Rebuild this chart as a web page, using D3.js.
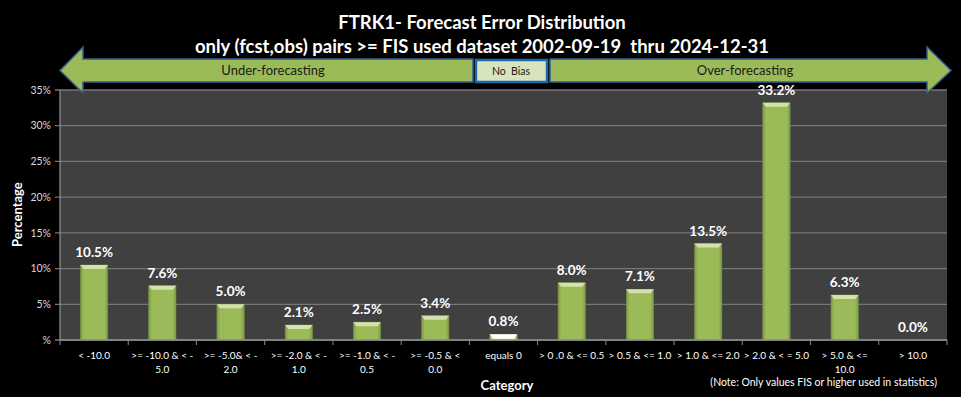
<!DOCTYPE html>
<html>
<head>
<meta charset="utf-8">
<script src="https://cdn.jsdelivr.net/npm/d3@7"></script>
<style>
    body { margin: 0; background: #000; overflow: hidden; }
    svg { display: block; font-family: Lato, "Open Sans", sans-serif; }
    .pre { white-space: pre; }
</style>
</head>
<body>
<div id="chart"></div>
<script>
// Chart data
const categories = [
    "< -10.0",
    ">= -10.0 & < -\n5.0",
    ">= -5.0& < -\n2.0",
    ">= -2.0 & < -\n1.0",
    ">= -1.0 & < -\n0.5",
    ">= -0.5 & <\n0.0",
    "equals 0",
    "> 0 .0 & <= 0.5",
    "> 0.5 & <= 1.0",
    "> 1.0 & <= 2.0",
    "> 2.0 & < = 5.0",
    "> 5.0 & <=\n10.0",
    "> 10.0"
];
const percentages = [10.5, 7.6, 5.0, 2.1, 2.5, 3.4, 0.8, 8.0, 7.1, 13.5, 33.2, 6.3, 0.0];
const yTicks = [0, 5, 10, 15, 20, 25, 30, 35];
const yTickLabels = ["%", "5%", "10%", "15%", "20%", "25%", "30%", "35%"];

const titleLines = [
    "FTRK1- Forecast Error Distribution",
    "only (fcst,obs) pairs >= FIS used dataset 2002-09-19  thru 2024-12-31"
];

const width = 961, height = 397;
const margin = { top: 90, right: 14, bottom: 57, left: 60 };
const plotLeft = margin.left, plotRight = width - margin.right;
const plotTop = margin.top, plotBottom = height - margin.bottom;

const svg = d3.select("#chart")
    .append("svg")
    .attr("width", width)
    .attr("height", height);

// gradients for the bars
const defs = svg.append("defs");
const greenGrad = defs.append("linearGradient").attr("id", "greenBar");
greenGrad.append("stop").attr("offset", "0%").attr("stop-color", "#7e9a45");
greenGrad.append("stop").attr("offset", "12%").attr("stop-color", "#9bbb59");
greenGrad.append("stop").attr("offset", "88%").attr("stop-color", "#9bbb59");
greenGrad.append("stop").attr("offset", "100%").attr("stop-color", "#7e9a45");
const whiteGrad = defs.append("linearGradient").attr("id", "whiteBar");
whiteGrad.append("stop").attr("offset", "0%").attr("stop-color", "#8fae55");
whiteGrad.append("stop").attr("offset", "12%").attr("stop-color", "#eef3e2");
whiteGrad.append("stop").attr("offset", "88%").attr("stop-color", "#eef3e2");
whiteGrad.append("stop").attr("offset", "100%").attr("stop-color", "#8fae55");

// Scales (in svg coordinates)
const xScale = d3.scaleBand()
    .domain(categories)
    .range([plotLeft, plotRight])
    .paddingInner(0.6)
    .paddingOuter(0.3);

const yScale = d3.scaleLinear()
    .domain([0, 35])
    .range([plotBottom, plotTop]);

// Plot background
svg.append("rect")
    .attr("x", plotLeft)
    .attr("y", plotTop)
    .attr("width", plotRight - plotLeft)
    .attr("height", plotBottom - plotTop)
    .attr("fill", "#404040");

/* Gridlines + y axis */
svg.selectAll(".grid")
    .data(yTicks)
    .join("line")
    .attr("class", "grid")
    .attr("x1", plotLeft - 5)
    .attr("x2", plotRight)
    .attr("y1", d => yScale(d))
    .attr("y2", d => yScale(d))
    .attr("stroke", "#767676")
    .attr("stroke-width", 1.3);

svg.selectAll(".y-label")
    .data(yTicks)
    .join("text")
    .attr("class", "y-label")
    .attr("x", plotLeft - 9)
    .attr("y", d => yScale(d))
    .attr("dy", "0.35em")
    .attr("text-anchor", "end")
    .attr("fill", "#d9d9d9")
    .attr("font-size", 10.5)
    .text((d, i) => yTickLabels[i]);

svg.append("line")
    .attr("x1", plotLeft).attr("x2", plotLeft)
    .attr("y1", plotTop).attr("y2", plotBottom)
    .attr("stroke", "#8c8c8c")
    .attr("stroke-width", 1.3);

/* Bars */
const data = categories.map((c, i) => ({ category: c, value: percentages[i] }));

const bars = svg.selectAll(".bar")
    .data(data)
    .join("g")
    .attr("class", "bar");

bars.append("rect")
    .attr("x", d => xScale(d.category))
    .attr("y", d => yScale(d.value))
    .attr("width", xScale.bandwidth())
    .attr("height", d => plotBottom - yScale(d.value))
    .attr("fill", d => d.category === "equals 0" ? "url(#whiteBar)" : "url(#greenBar)")
    .attr("stroke", d => d.value > 0 ? "#7a9445" : "none")
    .attr("stroke-width", 0.6);

// bevelled top cap
bars.filter(d => d.value > 0)
    .append("path")
    .attr("d", d => {
        const x0 = xScale(d.category), x1 = x0 + xScale.bandwidth();
        const y0 = yScale(d.value);
        const h = Math.min(4, plotBottom - y0);
        return `M${x0},${y0}L${x1},${y0}L${x1 - 3},${y0 + h}L${x0 + 3},${y0 + h}Z`;
    })
    .attr("fill", d => d.category === "equals 0" ? "#ffffff" : "#d3e2ad");

// Value labels
svg.selectAll(".value-label")
    .data(data)
    .join("text")
    .attr("class", "value-label")
    .attr("x", d => xScale(d.category) + xScale.bandwidth() / 2)
    .attr("y", d => yScale(d.value) - 8)
    .attr("text-anchor", "middle")
    .attr("fill", "#ffffff")
    .attr("font-size", 13.5)
    .attr("font-weight", "bold")
    .text(d => d.value.toFixed(1) + "%");

/* X axis */
svg.append("line")
    .attr("x1", plotLeft).attr("x2", plotRight)
    .attr("y1", plotBottom).attr("y2", plotBottom)
    .attr("stroke", "#8c8c8c")
    .attr("stroke-width", 1.3);

// category boundary ticks
svg.selectAll(".cat-tick")
    .data(d3.range(categories.length + 1))
    .join("line")
    .attr("class", "cat-tick")
    .attr("x1", i => plotLeft + i * xScale.step())
    .attr("x2", i => plotLeft + i * xScale.step())
    .attr("y1", plotBottom)
    .attr("y2", plotBottom + 5)
    .attr("stroke", "#8c8c8c");

const catLabels = svg.selectAll(".cat-label")
    .data(categories)
    .join("text")
    .attr("class", "cat-label")
    .attr("text-anchor", "middle")
    .attr("fill", "#ffffff")
    .attr("font-size", 10)
    .attr("x", d => xScale(d) + xScale.bandwidth() / 2)
    .attr("y", plotBottom + 19);

catLabels.selectAll("tspan")
    .data(d => d.split("\n").map(line => ({ line, x: xScale(d) + xScale.bandwidth() / 2 })))
    .join("tspan")
    .attr("x", t => t.x)
    .attr("dy", (t, i) => i === 0 ? 0 : 13.5)
    .text(t => t.line);

// Axis titles
svg.append("text")
    .attr("x", 507)
    .attr("y", 390)
    .attr("text-anchor", "middle")
    .attr("fill", "#ffffff")
    .attr("font-size", 13)
    .attr("font-weight", "bold")
    .text("Category");

svg.append("text")
    .attr("x", 22)
    .attr("y", 247)
    .attr("transform", "rotate(-90,22,247)")
    .attr("text-anchor", "start")
    .attr("fill", "#ffffff")
    .attr("font-size", 13)
    .attr("font-weight", "bold")
    .text("Percentage");

svg.append("text")
    .attr("x", 937)
    .attr("y", 386)
    .attr("text-anchor", "end")
    .attr("fill", "#ffffff")
    .attr("font-size", 10.5)
    .text("(Note: Only values FIS or higher used in statistics)");

// Title
svg.selectAll(".chart-title")
    .data(titleLines)
    .join("text")
    .attr("class", "chart-title pre")
    .attr("x", 482)
    .attr("y", (d, i) => 29 + i * 24)
    .attr("text-anchor", "middle")
    .attr("fill", "#ffffff")
    .attr("font-size", 18.5)
    .attr("font-weight", "bold")
    .text(d => d);

/* Bias arrows */
const shaftTop = 59, shaftBot = 82, headTop = 47, headBot = 93, midY = 70.5;

svg.append("path")
    .attr("d", `M60,${midY}L83,${headTop}L83,${shaftTop}L473,${shaftTop}L473,${shaftBot}L83,${shaftBot}L83,${headBot}Z`)
    .attr("fill", "#9bbb59")
    .attr("stroke", "#385d8a")
    .attr("stroke-width", 1.5);

svg.append("path")
    .attr("d", `M550,${shaftTop}L927,${shaftTop}L927,${headTop}L951,${midY}L927,${headBot}L927,${shaftBot}L550,${shaftBot}Z`)
    .attr("fill", "#9bbb59")
    .attr("stroke", "#385d8a")
    .attr("stroke-width", 1.5);

svg.append("rect")
    .attr("x", 476)
    .attr("y", shaftTop + 1)
    .attr("width", 71)
    .attr("height", shaftBot - shaftTop - 1)
    .attr("fill", "#d7e4bd")
    .attr("stroke", "#1c6bb0")
    .attr("stroke-width", 2.5);

svg.append("text")
    .attr("x", 273).attr("y", 75)
    .attr("text-anchor", "middle")
    .attr("fill", "#1a1a1a")
    .attr("font-size", 13)
    .text("Under-forecasting");

svg.append("text")
    .attr("x", 745).attr("y", 75)
    .attr("text-anchor", "middle")
    .attr("fill", "#1a1a1a")
    .attr("font-size", 13)
    .text("Over-forecasting");

svg.append("text")
    .attr("class", "pre")
    .attr("x", 511).attr("y", 75)
    .attr("text-anchor", "middle")
    .attr("fill", "#1a1a1a")
    .attr("font-size", 10.5)
    .text("No  Bias");
</script>
</body>
</html>
